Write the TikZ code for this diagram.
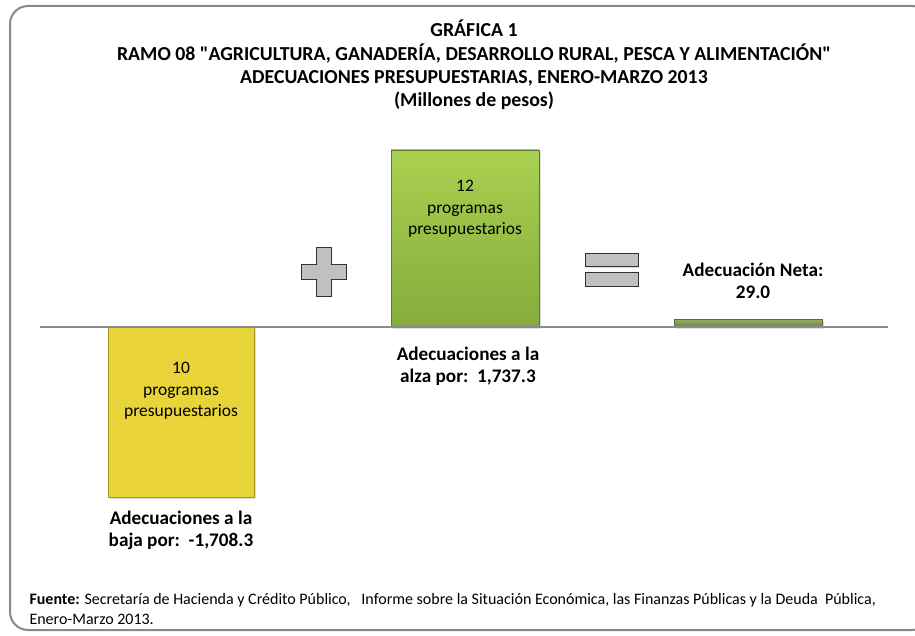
\documentclass[tikz,border=0pt]{standalone}
\usepackage{fontspec}
\setmainfont{Carlito}[Ligatures=TeXOff]
\usetikzlibrary{shadows}
\definecolor{frameGray}{HTML}{8A8A8A}
\definecolor{axisGray}{HTML}{8C8C8C}
\definecolor{barYellow}{HTML}{E8D438}
\definecolor{barGreenTop}{HTML}{A9D04F}
\definecolor{barGreenBot}{HTML}{86AC3C}
\definecolor{netGreen}{HTML}{7F9A45}
\definecolor{signGray}{HTML}{C0C0C0}
\tikzset{
  barbox/.style={draw=#1, line width=0.8pt,
    drop shadow={opacity=0.25, shadow xshift=1.5pt, shadow yshift=-1.5pt}},
  signbox/.style={draw=black!80, fill=signGray, line width=1pt,
    drop shadow={opacity=0.3, shadow xshift=1.2pt, shadow yshift=-1.2pt}},
  bartext/.style={align=center, font=\fontsize{17.5}{21.5}\selectfont},
  sumtext/.style={align=center, font=\bfseries\fontsize{19.2}{22}\selectfont},
}
\begin{document}
\begin{tikzpicture}[x=1pt,y=-1pt]
    \useasboundingbox (0,0) rectangle (915,636);
    % Outer frame (right side runs off the page)
    \draw[frameGray, line width=2pt, rounded corners=18pt] (10,6) rectangle (930,630);

    % Title
    \node (title) at (474,65) [align=center, font=\bfseries\fontsize{19.8}{23.3}\selectfont]
        {GRÁFICA 1\\RAMO 08 "AGRICULTURA, GANADERÍA, DESARROLLO RURAL, PESCA Y ALIMENTACIÓN"\\
         ADECUACIONES PRESUPUESTARIAS, ENERO-MARZO 2013\\(Millones de pesos)};

    % Bars
    \path[barbox=barYellow!70!black, fill=barYellow] (108,327) rectangle (254,497);
    \path[barbox=barGreenBot!70!black, top color=barGreenTop, bottom color=barGreenBot] (391,150) rectangle (539,327);
    \path[barbox=netGreen!70!black, top color=netGreen!80!white, bottom color=netGreen!85!black] (674,319) rectangle (822,327);

    % Axis
    \coordinate (axisL) at (40,327);
    \coordinate (axisR) at (888,327);
    \draw[axisGray, line width=1.8pt] (axisL) -- (axisR);

    % Plus and equals signs
    \path[signbox] (316,248) -- (331,248) -- (331,265) -- (346,265) -- (346,279) -- (331,279)
        -- (331,296) -- (316,296) -- (316,279) -- (301,279) -- (301,265) -- (316,265) -- cycle;
    \path[signbox] (585,254) rectangle (638,267);
    \path[signbox] (585,273) rectangle (638,286);

    % Texts inside the bars
    \node (downText) at (181,391) [bartext] {10\\programas\\presupuestarios};
    \node (upText) at (465,209) [bartext] {12\\programas\\presupuestarios};

    % Amount labels
    \node (downLabel) at (181,530) [sumtext] {Adecuaciones a la\\baja por:\ \ -1,708.3};
    \node (upLabel) at (468,366) [sumtext] {Adecuaciones a la\\alza por:\ \ 1,737.3};
    \node (netLabel) at (753,281) [sumtext] {Adecuación Neta:\\29.0};

    % Source
    \node (source) at (26,609) [anchor=west, align=left, font=\fontsize{16}{20}\selectfont]
        {\textbf{Fuente:} Secretaría de Hacienda y Crédito Público,\ \ \ Informe sobre la Situación Económica, las Finanzas Públicas y la Deuda\ \ Pública,\\
         Enero-Marzo 2013.};
\end{tikzpicture}
\end{document}
